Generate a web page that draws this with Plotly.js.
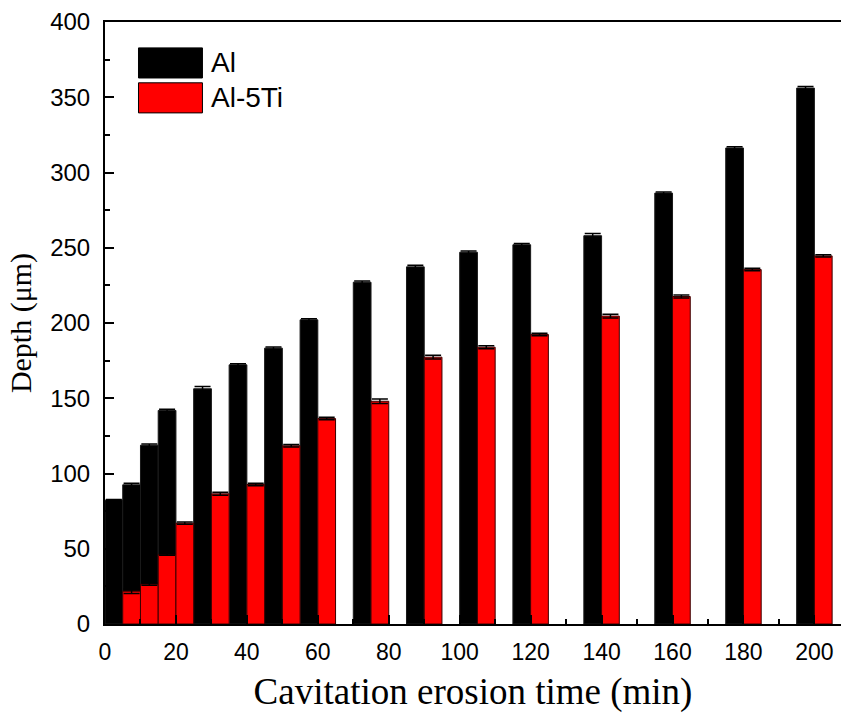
<!DOCTYPE html>
<html>
<head>
<meta charset="utf-8">
<script src="https://cdn.plot.ly/plotly-3.0.1.min.js"></script>
<style>html,body{margin:0;padding:0;background:#fff;}#chart{width:841px;height:716px;}</style>
</head>
<body>
<div id="chart"></div>
<script>
// Cavitation erosion time (min) — boundary between the paired bars
const times = [5, 10, 15, 20, 30, 40, 50, 60, 75, 90, 105, 120, 140, 160, 180, 200];
// Depth (μm)
const depthAl    = [82.3, 92.5, 118.8, 141.9, 156.3, 172.2, 183.3, 202.1, 227.1, 237.3, 247.0, 252.0, 258.0, 286.3, 316.3, 356.1];
const errAl      = [0.5, 1.0, 0.8, 0.8, 1.5, 0.8, 0.8, 0.8, 0.8, 1.0, 0.8, 0.8, 1.5, 0.8, 0.8, 1.0];
const depthAlTi  = [21.8, 26.5, 46.2, 67.0, 86.5, 92.7, 118.4, 136.5, 148.0, 177.3, 183.9, 192.4, 204.6, 217.6, 235.5, 244.6];
const errAlTi    = [1.5, 0.8, 0.6, 0.8, 1.0, 0.8, 0.8, 0.8, 1.5, 1.2, 1.0, 0.8, 1.2, 1.0, 0.8, 0.8];
const seriesNames = ['Al', 'Al-5Ti'];
const xTitle = 'Cavitation erosion time (min)';
const yTitle = 'Depth (μm)';

const barW = 5;
const traces = [
  {
    type: 'bar', name: seriesNames[0], x: times, y: depthAl,
    width: barW, offset: -barW,
    marker: {color: '#000000', line: {color: '#1a1a1a', width: 1}},
    error_y: {type: 'data', array: errAl, visible: true, color: '#000', thickness: 1.5, width: 8},
    showlegend: false
  },
  {
    type: 'bar', name: seriesNames[1], x: times, y: depthAlTi,
    width: barW, offset: 0,
    marker: {color: '#ff0000', line: {color: '#3a0000', width: 1}},
    error_y: {type: 'data', array: errAlTi, visible: true, color: '#000', thickness: 1.5, width: 8},
    showlegend: false
  }
];

const tickFont = {family: 'Liberation Sans, Arial, sans-serif', size: 23, color: '#000'};
const layout = {
  width: 841, height: 716,
  margin: {l: 104.5, r: 0, t: 22, b: 91.5},
  paper_bgcolor: '#fff', plot_bgcolor: '#fff',
  barmode: 'overlay',
  showlegend: false,
  xaxis: {
    range: [0, 207.5],
    tickmode: 'linear', tick0: 0, dtick: 20,
    ticks: 'inside', ticklen: 9, tickwidth: 2, tickcolor: '#000',
    minor: {dtick: 10, ticks: 'inside', ticklen: 5, tickwidth: 2, tickcolor: '#000'},
    showline: true, linewidth: 2, linecolor: '#000', mirror: true,
    showgrid: false, zeroline: false,
    tickfont: tickFont,
    ticklabelstandoff: 6,
    title: {text: xTitle, font: {family: 'Liberation Serif, Times New Roman, serif', size: 37, color: '#000'}, standoff: 15}
  },
  yaxis: {
    range: [0, 400],
    tickmode: 'linear', tick0: 0, dtick: 50,
    ticks: 'inside', ticklen: 9, tickwidth: 2, tickcolor: '#000',
    minor: {dtick: 25, ticks: 'inside', ticklen: 5, tickwidth: 2, tickcolor: '#000'},
    showline: true, linewidth: 2, linecolor: '#000', mirror: false,
    showgrid: false, zeroline: false,
    tickfont: Object.assign({}, tickFont, {size: 24}),
    ticklabelstandoff: 8,
    title: {text: yTitle, font: {family: 'Liberation Serif, Times New Roman, serif', size: 30, color: '#000'}, standoff: 10}
  },
  shapes: [
    {type: 'rect', xref: 'paper', yref: 'paper', x0: 0.0455, x1: 0.1324, y0: 0.907, y1: 0.957,
     fillcolor: '#000', line: {color: '#000', width: 1}},
    {type: 'rect', xref: 'paper', yref: 'paper', x0: 0.0455, x1: 0.1324, y0: 0.849, y1: 0.899,
     fillcolor: '#ff0000', line: {color: '#000', width: 1}}
  ],
  annotations: [
    {xref: 'paper', yref: 'paper', x: 0.1419, y: 0.932, xanchor: 'left', yanchor: 'middle', showarrow: false,
     text: seriesNames[0], font: {family: 'Liberation Sans, Arial, sans-serif', size: 28, color: '#000'}},
    {xref: 'paper', yref: 'paper', x: 0.1419, y: 0.874, xanchor: 'left', yanchor: 'middle', showarrow: false,
     text: seriesNames[1], font: {family: 'Liberation Sans, Arial, sans-serif', size: 28, color: '#000'}}
  ]
};

Plotly.newPlot('chart', traces, layout, {displayModeBar: false, staticPlot: true});
</script>
</body>
</html>
